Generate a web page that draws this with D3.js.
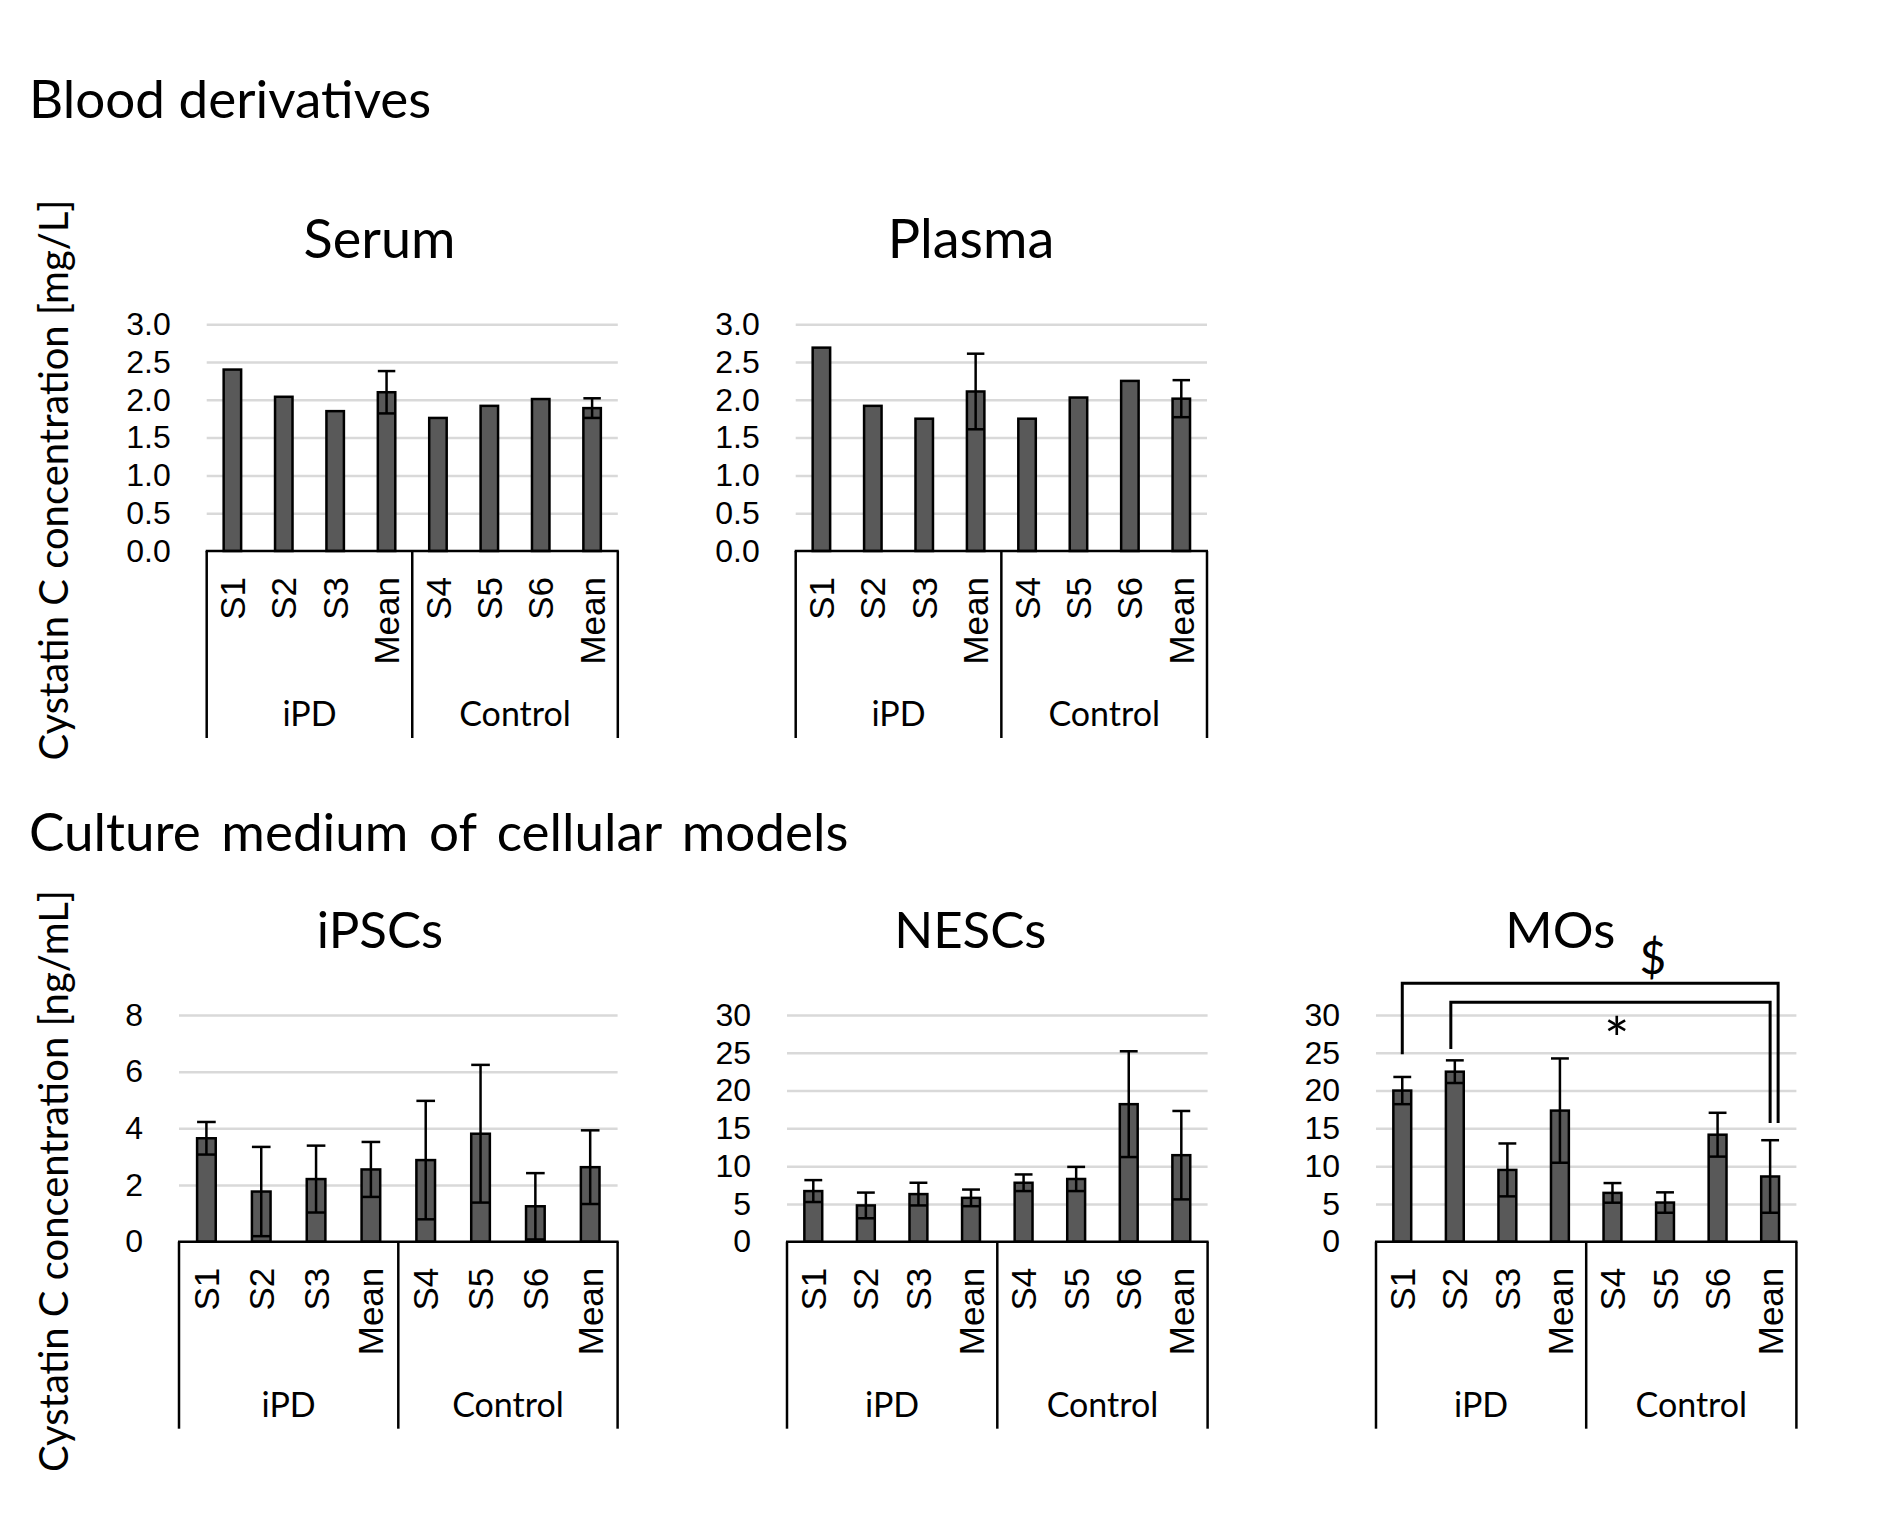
<!DOCTYPE html>
<html>
<head>
<meta charset="utf-8">
<script src="https://cdn.jsdelivr.net/npm/d3@7"></script>
<style>
  body { margin: 0; background: #fff; }
  svg { display: block; font-family: Lato, "Open Sans", sans-serif; }
</style>
</head>
<body>
<div id="chart"></div>
<script>
//category labels and groups (same for every panel)
let categories = ["S1", "S2", "S3", "Mean", "S4", "S5", "S6", "Mean"];
let groups = ["iPD", "Control"];

//Blood derivatives [mg/L]
let serumValues  = [2.40, 2.04, 1.85, 2.10, 1.76, 1.92, 2.01, 1.89];
let serumErrors  = [0, 0, 0, 0.28, 0, 0, 0, 0.13];
let plasmaValues = [2.69, 1.92, 1.75, 2.11, 1.75, 2.03, 2.25, 2.015];
let plasmaErrors = [0, 0, 0, 0.50, 0, 0, 0, 0.245];

//Culture medium [ng/mL]
let ipscValues = [3.65, 1.77, 2.21, 2.55, 2.88, 3.81, 1.25, 2.63];
let ipscErrors = [0.575, 1.575, 1.18, 0.97, 2.09, 2.43, 1.17, 1.30];
let nescValues = [6.7, 4.8, 6.3, 5.8, 7.8, 8.3, 18.2, 11.45];
let nescErrors = [1.45, 1.7, 1.5, 1.1, 1.1, 1.6, 7.0, 5.85];
let moValues   = [20.0, 22.5, 9.5, 17.35, 6.46, 5.18, 14.16, 8.63];
let moErrors   = [1.8, 1.5, 3.5, 6.9, 1.3, 1.35, 2.9, 4.8];

//y ticks
let bloodTicks = [0, 0.5, 1.0, 1.5, 2.0, 2.5, 3.0];
let ipscTicks  = [0, 2, 4, 6, 8];
let cellTicks  = [0, 5, 10, 15, 20, 25, 30];

//significance brackets on MOs (category index, value units)
let moBrackets = [
    {from: 0, to: 7, top: 34.2, fromY: 24.8, toY: 15.7, label: "$", labelAt: 4.77, labelY: 37.7},
    {from: 1, to: 7, top: 31.7, fromY: 25.5, toY: 15.7, label: "*", labelAt: 4.08, labelY: 28.3}
];

//==========================================================
let width_svg = 1890;
let height_svg = 1535;

let svg = d3.select("#chart")
            .append("svg")
            .attr("width", width_svg)
            .attr("height", height_svg);

let panels = [
    {title: "Serum",  values: serumValues,  errors: serumErrors,  ticks: bloodTicks, fmt: d3.format(".1f"),
     x0: 206.7, x1: 617.8, y0: 551, yTop: 324.2, titleX: 379.5, titleY: 258, titleSize: 54},
    {title: "Plasma", values: plasmaValues, errors: plasmaErrors, ticks: bloodTicks, fmt: d3.format(".1f"),
     x0: 795.7, x1: 1207, y0: 551, yTop: 324.2, titleX: 971, titleY: 257.5, titleSize: 54},
    {title: "iPSCs",  values: ipscValues,   errors: ipscErrors,   ticks: ipscTicks,  fmt: d3.format("d"),
     x0: 179, x1: 617.6, y0: 1241.7, yTop: 1015, titleX: 380, titleY: 948, titleSize: 51},
    {title: "NESCs",  values: nescValues,   errors: nescErrors,   ticks: cellTicks,  fmt: d3.format("d"),
     x0: 787, x1: 1207.6, y0: 1241.7, yTop: 1015, titleX: 970.3, titleY: 948, titleSize: 51},
    {title: "MOs",    values: moValues,     errors: moErrors,     ticks: cellTicks,  fmt: d3.format("d"),
     x0: 1376, x1: 1796.4, y0: 1241.7, yTop: 1015, titleX: 1560.3, titleY: 948, titleSize: 51, brackets: moBrackets}
];

//section headings
svg.append("text").attr("x", 29).attr("y", 118)
   .attr("font-size", 53).text("Blood derivatives");
svg.append("text").attr("x", 29).attr("y", 850.5)
   .attr("font-size", 53).attr("word-spacing", 7).text("Culture medium of cellular models");

//y axis titles
function yTitle(cy, txt) {
    svg.append("text")
       .attr("transform", `translate(68, ${cy}) rotate(-90)`)
       .attr("text-anchor", "middle")
       .attr("font-size", 40)
       .text(txt);
}
yTitle(480, "Cystatin C concentration [mg/L]");
yTitle(1181, "Cystatin C concentration [ng/mL]");

//==========================================================
function drawPanel(p) {
    let g = svg.append("g");
    let idx = d3.range(categories.length);

    let x = d3.scaleBand().domain(idx).range([p.x0, p.x1]).padding(0);
    let y = d3.scaleLinear().domain([0, d3.max(p.ticks)]).range([p.y0, p.yTop]);
    let barW = x.bandwidth() * 0.34;
    let cx = i => x(i) + x.bandwidth() / 2;

    //title
    g.append("text").attr("x", p.titleX).attr("y", p.titleY)
     .attr("text-anchor", "middle").attr("font-size", p.titleSize).text(p.title);

    //gridlines
    g.append("g")
     .attr("transform", `translate(${p.x0},0)`)
     .call(d3.axisLeft(y).tickValues(p.ticks.slice(1)).tickSize(-(p.x1 - p.x0)).tickFormat(""))
     .call(a => a.select(".domain").remove())
     .call(a => a.selectAll("line").attr("stroke", "#d9d9d9").attr("stroke-width", 2.5));

    //tick labels
    g.append("g")
     .attr("transform", `translate(${p.x0},0)`)
     .call(d3.axisLeft(y).tickValues(p.ticks).tickSize(0).tickPadding(36).tickFormat(p.fmt))
     .call(a => a.select(".domain").remove())
     .call(a => a.selectAll("text").attr("font-size", 32).attr("font-family", null).attr("fill", "#000"));

    //bars
    g.selectAll("rect.bar")
     .data(p.values)
     .enter()
     .append("rect")
     .attr("class", "bar")
     .attr("x", (d, i) => cx(i) - barW / 2)
     .attr("y", d => y(d))
     .attr("width", barW)
     .attr("height", d => y(0) - y(d))
     .attr("fill", "#595959")
     .attr("stroke", "#000")
     .attr("stroke-width", 2.5);

    //error bars
    let eb = g.selectAll("g.err")
              .data(p.values.map((v, i) => ({v: v, e: p.errors[i], i: i})).filter(d => d.e > 0))
              .enter()
              .append("g")
              .attr("stroke", "#000")
              .attr("stroke-width", 2.5);
    eb.append("line")
      .attr("x1", d => cx(d.i)).attr("x2", d => cx(d.i))
      .attr("y1", d => y(d.v - d.e)).attr("y2", d => y(d.v + d.e));
    eb.append("line")
      .attr("x1", d => cx(d.i) - barW / 2).attr("x2", d => cx(d.i) + barW / 2)
      .attr("y1", d => y(d.v + d.e)).attr("y2", d => y(d.v + d.e));
    eb.append("line")
      .attr("x1", d => cx(d.i) - barW / 2).attr("x2", d => cx(d.i) + barW / 2)
      .attr("y1", d => y(d.v - d.e)).attr("y2", d => y(d.v - d.e));

    //category axis with rotated labels
    let xAxis = g.append("g")
                 .attr("transform", `translate(0, ${p.y0})`)
                 .call(d3.axisBottom(x).tickSize(0).tickFormat(i => categories[i]));
    xAxis.select(".domain").remove();
    xAxis.selectAll("text")
         .attr("transform", "rotate(-90)")
         .attr("text-anchor", "end")
         .attr("x", -26).attr("y", 0).attr("dy", "0.36em")
         .attr("font-size", 35).attr("font-family", null).attr("fill", "#000");

    let boxH = 187;
    let splits = [p.x0, x(4), p.x1];
    g.append("line")
     .attr("x1", p.x0 - 1).attr("x2", p.x1 + 1).attr("y1", p.y0).attr("y2", p.y0)
     .attr("stroke", "#000").attr("stroke-width", 2.5);
    g.selectAll("line.split")
     .data(splits)
     .enter()
     .append("line")
     .attr("class", "split")
     .attr("x1", d => d).attr("x2", d => d)
     .attr("y1", p.y0).attr("y2", p.y0 + boxH)
     .attr("stroke", "#000").attr("stroke-width", 2.5);
    g.selectAll("text.grp")
     .data(groups)
     .enter()
     .append("text")
     .attr("class", "grp")
     .attr("x", (d, i) => (splits[i] + splits[i + 1]) / 2)
     .attr("y", p.y0 + 175)
     .attr("text-anchor", "middle")
     .attr("font-size", 34)
     .text(d => d);

    //significance brackets
    if (p.brackets) {
        let lx = d3.scaleLinear().domain([0, 7]).range([cx(0), cx(7)]);
        p.brackets.forEach((b, k) => {
            let xa = cx(b.from) + (k === 1 ? -4 : 0);
            let xb = cx(b.to) + (k === 0 ? 8 : 0);
            g.append("path")
             .attr("d", `M${xa},${y(b.fromY)}V${y(b.top)}H${xb}V${y(b.toY)}`)
             .attr("fill", "none").attr("stroke", "#000").attr("stroke-width", 3);
            let star = b.label === "*";
            g.append("text")
             .attr("x", lx(b.labelAt))
             .attr("y", y(b.labelY) + (star ? 0.56 * 60 : 0))
             .attr("text-anchor", "middle")
             .attr("dominant-baseline", star ? "auto" : "central")
             .attr("font-size", star ? 60 : 46)
             .text(b.label);
        });
    }
}

panels.forEach(drawPanel);
</script>
</body>
</html>
